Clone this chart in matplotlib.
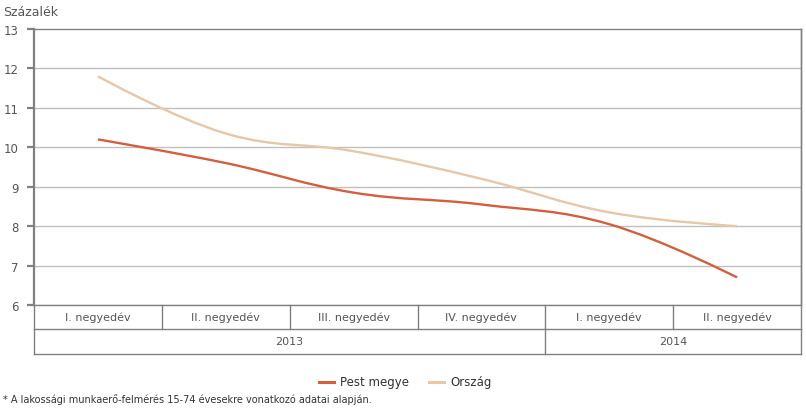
import numpy as np
import matplotlib
matplotlib.use("Agg")
import matplotlib.pyplot as plt
from matplotlib.path import Path
from matplotlib.patches import PathPatch
from matplotlib.lines import Line2D
from itertools import groupby

quarters = ["I. negyedév", "II. negyedév", "III. negyedév", "IV. negyedév", "I. negyedév", "II. negyedév"]
years = ["2013", "2013", "2013", "2013", "2014", "2014"]
pest = [10.2, 9.6, 8.85, 8.55, 8.05, 6.7]
orszag = [11.8, 10.35, 9.9, 9.2, 8.35, 8.0]
series_names = ["Pest megye", "Ország"]
series_colors = ["#d2603f", "#e6c7a8"]
yticks = [6, 7, 8, 9, 10, 11, 12, 13]

TXT = "#555555"
GRID = "#c0c0c0"
AX = "#808080"

plt.rcParams['font.family'] = ['DejaVu Sans']

fig = plt.figure(figsize=(8.06, 4.10), dpi=100)
ax = fig.add_axes([34/806, 1-306/410, (801-34)/806, 276/410])


def spline_path(xs, ys, smoothing=1.5):
    denom = smoothing + 1
    n = len(xs)
    verts = [(xs[0], ys[0])]
    codes = [Path.MOVETO]
    left = [None]*n
    right = [None]*n
    for i in range(n):
        if i == 0 or i == n-1:
            left[i] = (xs[i], ys[i]); right[i] = (xs[i], ys[i]); continue
        px, py = xs[i], ys[i]
        lx, ly = xs[i-1], ys[i-1]
        nx, ny = xs[i+1], ys[i+1]
        lcx = (smoothing*px + lx)/denom
        lcy = (smoothing*py + ly)/denom
        rcx = (smoothing*px + nx)/denom
        rcy = (smoothing*py + ny)/denom
        if rcx != lcx:
            corr = ((rcy - lcy)*(rcx - px))/(rcx - lcx) + py - rcy
            lcy += corr; rcy += corr
        if lcy > ly and lcy > py:
            lcy = max(ly, py); rcy = 2*py - lcy
        elif lcy < ly and lcy < py:
            lcy = min(ly, py); rcy = 2*py - lcy
        if rcy > ny and rcy > py:
            rcy = max(ny, py); lcy = 2*py - rcy
        elif rcy < ny and rcy < py:
            rcy = min(ny, py); lcy = 2*py - rcy
        left[i] = (lcx, lcy); right[i] = (rcx, rcy)
    for i in range(1, n):
        verts += [right[i-1], left[i], (xs[i], ys[i])]
        codes += [Path.CURVE4]*3
    return Path(verts, codes)

x = np.arange(len(quarters))
for vals, col in zip([orszag, pest], [series_colors[1], series_colors[0]]):
    p = spline_path(list(x.astype(float)), list(vals))
    ax.add_patch(PathPatch(p, facecolor='none', edgecolor=col, lw=1.7, capstyle='butt', zorder=3))

ax.set_xlim(-0.5, len(quarters)-0.5)
ax.set_ylim(6, 13)
ax.set_yticks(yticks)
ax.set_yticklabels([str(t) for t in yticks], color=TXT, fontsize=8.5)
ax.set_xticks([])
for t in yticks[:-1]:
    ax.axhline(t, color=GRID, lw=1.0, zorder=1)
ax.spines['bottom'].set_visible(False)
ax.spines['top'].set_color(AX)
ax.spines['top'].set_linewidth(1.0)
ax.spines['left'].set_color(AX)
ax.spines['left'].set_linewidth(1.6)
ax.spines['right'].set_color(AX)
ax.spines['right'].set_linewidth(1.0)
ax.tick_params(axis='y', length=5, width=1.6, color=AX, pad=6)

# category table
r1 = (330-306)/276
r2 = (355-306)/276
tr = ax.get_xaxis_transform()
kw = dict(color=AX, lw=1.0, transform=tr, clip_on=False)
ax.add_line(Line2D([-0.5, 5.5], [0, 0], **kw))
ax.add_line(Line2D([-0.5, 5.5], [-r1, -r1], **kw))
ax.add_line(Line2D([-0.5, 5.5], [-r2, -r2], **kw))
ax.add_line(Line2D([-0.5, -0.5], [0, -r2], **kw))
ax.add_line(Line2D([5.5, 5.5], [1, -r2], **kw))
for i, q in enumerate(quarters):
    if i > 0:
        ax.add_line(Line2D([i-0.5, i-0.5], [0, -r1], **kw))
    ax.text(i, -r1/2, q, transform=tr, ha='center', va='center', fontsize=8, color=TXT)
start = 0
for yr, grp in groupby(years):
    cnt = len(list(grp))
    if start > 0:
        ax.add_line(Line2D([start-0.5, start-0.5], [-r1, -r2], **kw))
    ax.text(start + (cnt-1)/2, -(r1+r2)/2, yr, transform=tr, ha='center', va='center', fontsize=8, color=TXT)
    start += cnt

fig.text(3/806, 1-12/410, "Százalék", fontsize=9, color=TXT, ha='left', va='center')

# legend
ly = 1-383/410
fig.add_artist(Line2D([319/806, 334/806], [ly, ly], color=series_colors[0], lw=2.2))
fig.text(340/806, ly, series_names[0], fontsize=8.5, color="#333333", va='center', ha='left')
fig.add_artist(Line2D([429/806, 444/806], [ly, ly], color=series_colors[1], lw=2.2))
fig.text(450/806, ly, series_names[1], fontsize=8.5, color="#333333", va='center', ha='left')

fig.text(3/806, 1-400/410, "* A lakossági munkaerő-felmérés 15-74 évesekre vonatkozó adatai alapján.",
         fontsize=7, color="#333333", ha='left', va='center')

fig.savefig("out.png", dpi=100)
